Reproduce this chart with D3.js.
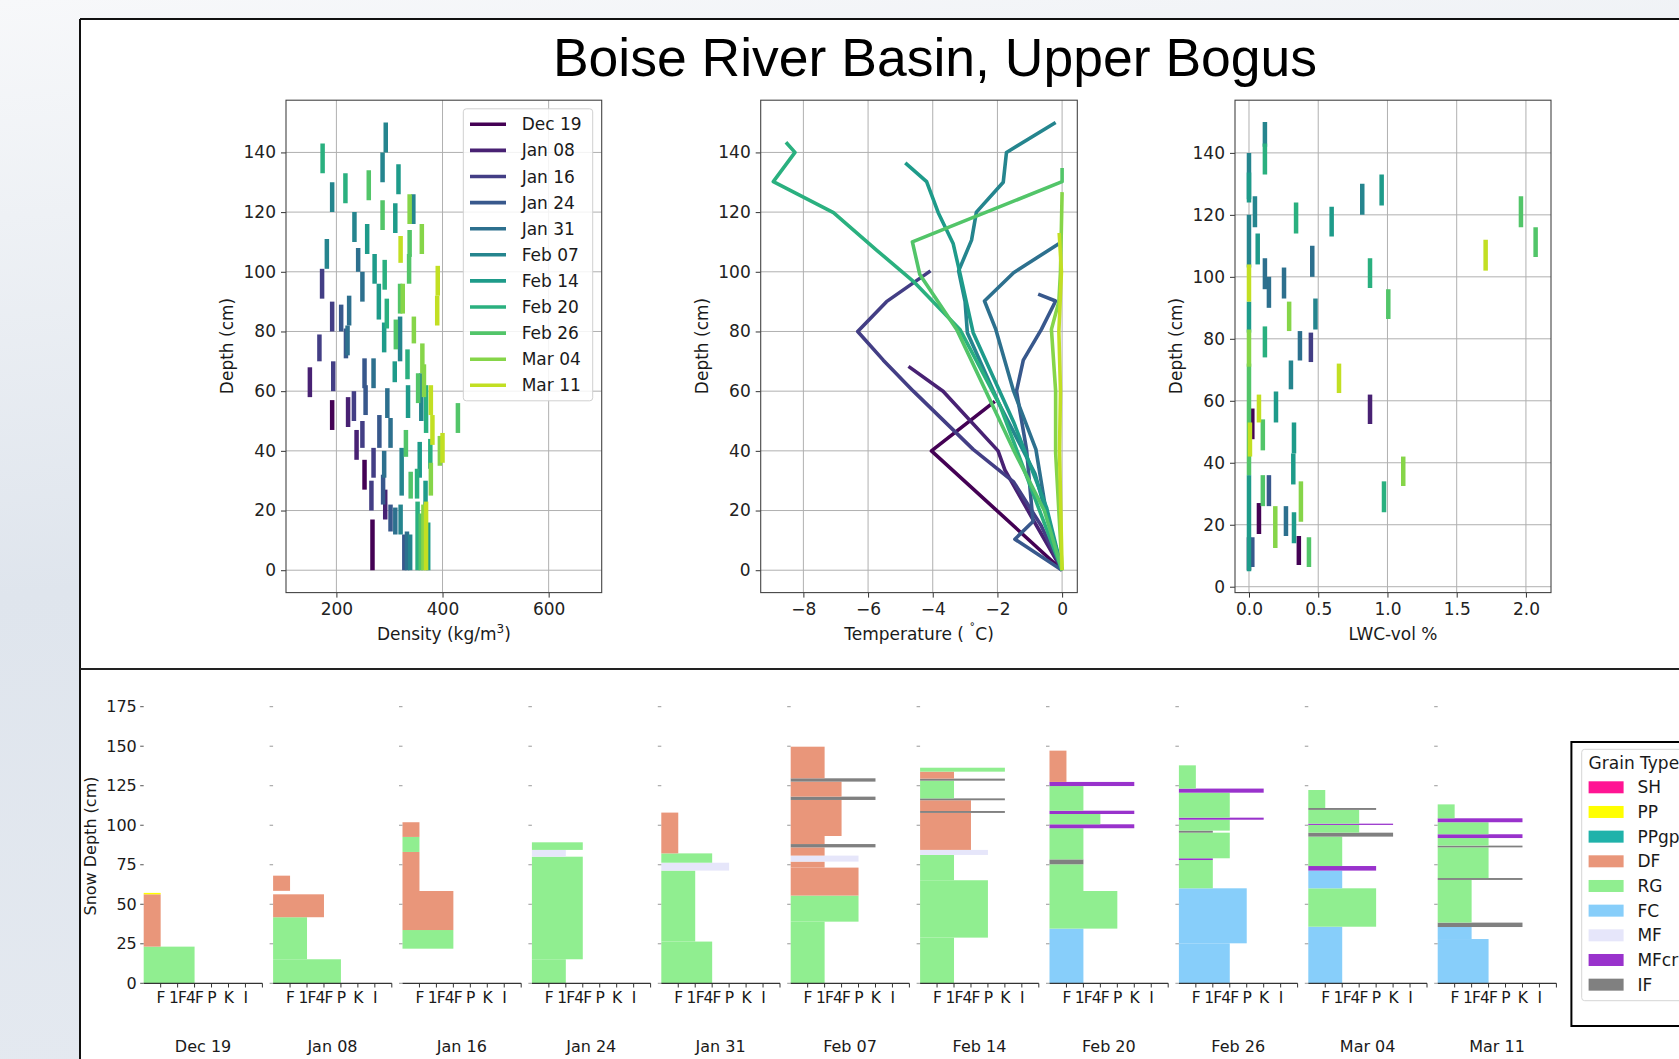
<!DOCTYPE html>
<html><head><meta charset="utf-8">
<script src="https://cdn.jsdelivr.net/npm/d3@7"></script>
<style>
body{margin:0;background:#fff;overflow:hidden}
svg{display:block}
text{font-family:"DejaVu Sans",sans-serif;fill:#1a1a1a}
</style></head><body>
<svg id="c" width="1679" height="1059"></svg>
<script>
// ---------------- DATA ----------------
const dates = ["Dec 19","Jan 08","Jan 16","Jan 24","Jan 31","Feb 07","Feb 14","Feb 20","Feb 26","Mar 04","Mar 11"];
const hardnessLabels = ["F","1F","4F","P","K","I"];
const grainTypes  = ["SH","PP","PPgp","DF","RG","FC","MF","MFcr","IF"];
const grainColors = ["#ff1493","#ffff00","#20b2aa","#e9967a","#90ee90","#87cefa","#e6e6fa","#9932cc","#808080"];
const densityTicks = [200,400,600];
const tempTicks = [-8,-6,-4,-2,0];
const lwcTicks = [0,0.5,1,1.5,2];
const depthTicks = [0,20,40,60,80,100,120,140];
const snowTicks = [0,25,50,75,100,125,150,175];

// density samples: [date, bottom cm, top cm, density kg/m3]
const densityRows = [
["Dec 19",0,17,268],["Dec 19",27,37,253],["Dec 19",47,57,192],
["Jan 08",17,27,292],["Jan 08",37,47,238],["Jan 08",48,58,222],["Jan 08",58,68,150],
["Jan 16",20,30,266],["Jan 16",31,41,270],["Jan 16",41,50,249],["Jan 16",50,60,233],["Jan 16",60,70,194],["Jan 16",70,79,168],["Jan 16",80,90,192],["Jan 16",91,101,173],
["Jan 24",0,12,328],["Jan 24",13,22,302],["Jan 24",22,32,288],["Jan 24",41,52,281],["Jan 24",52,62,255],["Jan 24",61,71,253],["Jan 24",71,81,218],["Jan 24",80,89,209],
["Jan 31",0,13,333],["Jan 31",12,21,311],["Jan 31",31,40,290],["Jan 31",41,51,302],["Jan 31",51,61,296],["Jan 31",61,71,270],["Jan 31",72,82,221],["Jan 31",82,92,224],["Jan 31",90,100,249],["Jan 31",100,108,241],
["Feb 07",0,12,339],["Feb 07",12,22,321],["Feb 07",25,41,323],["Feb 07",50,66,360],["Feb 07",70,85,320],["Feb 07",101,111,182],["Feb 07",110,120,234],["Feb 07",116,126,345],["Feb 07",120,130,192],["Feb 07",130,140,287],["Feb 07",140,150,293],
["Feb 14",0,16,373],["Feb 14",20,30,368],["Feb 14",31,43,357],["Feb 14",51,62,335],["Feb 14",63,70,310],["Feb 14",73,83,290],["Feb 14",84,96,280],["Feb 14",96,106,272],["Feb 14",106,116,258],["Feb 14",113,123,311],["Feb 14",126,136,317],
["Feb 20",0,23,353],["Feb 20",24,34,352],["Feb 20",34,44,377],["Feb 20",46,62,369],["Feb 20",64,74,334],["Feb 20",81,91,295],["Feb 20",94,104,291],["Feb 20",123,133,217],["Feb 20",133,143,174],
["Feb 26",0,19,359],["Feb 26",24,33,340],["Feb 26",38,47,331],["Feb 26",46,56,429],["Feb 26",56,66,354],["Feb 26",74,84,312],["Feb 26",86,96,320],["Feb 26",96,106,337],["Feb 26",105,114,338],["Feb 26",114,124,287],["Feb 26",124,134,261],
["Mar 04",0,22,364],["Mar 04",25,36,378],["Mar 04",35,45,395],["Mar 04",58,69,365],["Mar 04",66,76,362],["Mar 04",76,85,346],["Mar 04",86,96,325],["Mar 04",106,116,361],["Mar 04",116,126,338],
["Mar 11",0,23,369],["Mar 11",36,46,400],["Mar 11",42,52,381],["Mar 11",52,62,378],["Mar 11",82,92,390],["Mar 11",92,102,391],["Mar 11",103,112,321]
];

// temperature profiles: [date, depth cm, temperature C]
const tempRows = [
["Dec 19",0,0],["Dec 19",40,-4.04],["Dec 19",56.6,-2.08],
["Jan 08",0,0],["Jan 08",17,-0.9],["Jan 08",33.6,-1.77],["Jan 08",40,-1.98],["Jan 08",60,-3.68],["Jan 08",68.3,-4.75],
["Jan 16",0,0],["Jan 16",15,-0.65],["Jan 16",29.6,-1.5],["Jan 16",40.5,-2.75],["Jan 16",60,-4.6],["Jan 16",70.4,-5.53],["Jan 16",80,-6.32],["Jan 16",90,-5.43],["Jan 16",100.3,-4.07],
["Jan 24",0,0],["Jan 24",10.4,-1.46],["Jan 24",16.3,-0.9],["Jan 24",40.5,-1.1],["Jan 24",60,-1.41],["Jan 24",70.4,-1.2],["Jan 24",80.7,-0.64],["Jan 24",90.2,-0.2],["Jan 24",92.5,-0.74],
["Jan 31",0,0],["Jan 31",20,-0.5],["Jan 31",40.5,-0.81],["Jan 31",60,-1.5],["Jan 31",80.7,-2.05],["Jan 31",90.2,-2.4],["Jan 31",99.7,-1.5],["Jan 31",109.5,-0.09],
["Feb 07",0,0],["Feb 07",32.4,-0.84],["Feb 07",55.4,-1.93],["Feb 07",79.6,-2.93],["Feb 07",90,-3.0],["Feb 07",100.3,-3.2],["Feb 07",110.6,-2.8],["Feb 07",120,-2.65],["Feb 07",130,-1.82],["Feb 07",140,-1.72],["Feb 07",150,-0.2],
["Feb 14",0,0],["Feb 14",21,-0.48],["Feb 14",49.7,-1.5],["Feb 14",79.6,-2.75],["Feb 14",99.1,-3.15],["Feb 14",109.5,-3.37],["Feb 14",119.8,-3.83],["Feb 14",130.2,-4.19],["Feb 14",136.5,-4.85],
["Feb 20",0,0],["Feb 20",19.8,-0.69],["Feb 20",55.4,-1.93],["Feb 20",80.7,-3.16],["Feb 20",96.8,-4.6],["Feb 20",107.2,-5.73],["Feb 20",119.8,-7.07],["Feb 20",130.2,-8.93],["Feb 20",140,-8.26],["Feb 20",143.4,-8.54],
["Feb 26",0,0],["Feb 26",20,-0.55],["Feb 26",40.5,-1.51],["Feb 26",80.7,-3.26],["Feb 26",99.1,-4.4],["Feb 26",110,-4.63],["Feb 26",130.2,0],["Feb 26",134.8,0],
["Mar 04",0,0],["Mar 04",39.3,-0.2],["Mar 04",60,-0.2],["Mar 04",80.7,-0.33],["Mar 04",90,-0.1],["Mar 04",100,-0.05],["Mar 04",126.7,0],
["Mar 11",0,0],["Mar 11",40,-0.08],["Mar 11",60,-0.05],["Mar 11",80,-0.1],["Mar 11",100,-0.02],["Mar 11",113,-0.09]
];

// LWC samples: [date, bottom cm, top cm, LWC vol %]
const lwcRows = [
["Dec 19",7,16.4,0.36],["Dec 19",17,27,0.072],["Dec 19",47.6,57.5,0.024],
["Jan 08",5.3,16,0.0],["Jan 08",52.5,62,0.874],
["Jan 16",72.5,82,0.447],
["Jan 24",6.4,16,0.024],["Jan 24",26,36,0.144],
["Jan 31",16.4,26,0.267],["Jan 31",73,82.5,0.368],["Jan 31",90,100,0.144],["Jan 31",93,103,0.253],["Jan 31",96,106,0.115],["Jan 31",100,110,0.457],
["Feb 07",63.7,73,0.303],["Feb 07",83,93,0.48],["Feb 07",103,120,0.0],["Feb 07",116,126,0.043],["Feb 07",120,130,0.818],["Feb 07",125,140,0.0],["Feb 07",142,150,0.115],
["Feb 14",5,36,0.0],["Feb 14",14,24,0.325],["Feb 14",33,43,0.32],["Feb 14",43,53,0.325],["Feb 14",53,63,0.195],["Feb 14",82,92,0.0],["Feb 14",104,114,0.063],["Feb 14",113,122.6,0.597],["Feb 14",123,133,0.958],["Feb 14",124,133.7,0.0],
["Feb 20",24,34,0.975],["Feb 20",74,84,0.115],["Feb 20",96.4,106,0.874],["Feb 20",114,124,0.34],["Feb 20",133,143,0.115],
["Feb 26",6.4,16,0.433],["Feb 26",26,36,0.1],["Feb 26",36,72,0.0],["Feb 26",44,54,0.1],["Feb 26",86.4,96,1.006],["Feb 26",106.4,116,2.07],["Feb 26",116,126,1.964],
["Mar 04",21,34,0.375],["Mar 04",32.5,42,1.114],["Mar 04",71,83,0.0],["Mar 04",82.5,92,0.29],["Mar 04",12.5,26,0.19],
["Mar 11",42,53,0.007],["Mar 11",53,62,0.072],["Mar 11",62.5,72,0.65],["Mar 11",92,104,0.0],["Mar 11",102,112,1.709]
];

// snowpit layers: [date, bottom cm, top cm, grain type, hand hardness]
const layerRows = [
["Dec 19",0,23.2,"RG","4F"],["Dec 19",23.2,56.3,"DF","F"],["Dec 19",56.3,57.2,"PP","F"],
["Jan 08",0,15.2,"RG","P"],["Jan 08",15.2,41.8,"RG","1F"],["Jan 08",41.8,56.3,"DF","4F"],["Jan 08",58.5,68.1,"DF","F"],
["Jan 16",21.9,33.7,"RG","4F"],["Jan 16",33.7,58.4,"DF","4F"],["Jan 16",58.4,83.1,"DF","F"],["Jan 16",83.1,92.6,"RG","F"],["Jan 16",92.6,101.9,"DF","F"],
["Jan 24",0,15.2,"RG","1F"],["Jan 24",15.2,80.1,"RG","4F"],["Jan 24",80.1,84.4,"MF","1F"],["Jan 24",84.4,89.2,"RG","4F"],
["Jan 31",0,26.4,"RG","4F"],["Jan 31",26.4,71.3,"RG","1F"],["Jan 31",71.3,76.3,"MF","P"],["Jan 31",76.3,82.2,"RG","4F"],["Jan 31",82.2,108,"DF","F"],
["Feb 07",0,39,"RG","1F"],["Feb 07",39,55.5,"RG","P"],["Feb 07",55.5,73.2,"DF","P"],["Feb 07",73.2,77,"DF","1F"],["Feb 07",77,80.8,"MF","P"],["Feb 07",80.8,86,"DF","1F"],["Feb 07",86,88.1,"IF","K"],["Feb 07",88.1,93.2,"DF","1F"],["Feb 07",93.2,116,"DF","4F"],["Feb 07",116,118.1,"IF","K"],["Feb 07",118.1,127.6,"DF","4F"],["Feb 07",127.6,129.7,"IF","K"],["Feb 07",129.7,149.7,"DF","1F"],
["Feb 14",0,28.9,"RG","1F"],["Feb 14",28.9,65.2,"RG","P"],["Feb 14",65.2,81.2,"RG","1F"],["Feb 14",81.2,84.4,"MF","P"],["Feb 14",84.4,107.8,"DF","4F"],["Feb 14",107.8,109,"IF","K"],["Feb 14",109,115.8,"DF","4F"],["Feb 14",115.8,117,"IF","K"],["Feb 14",117,128.2,"RG","1F"],["Feb 14",128.2,129.5,"IF","K"],["Feb 14",129.5,133.9,"DF","1F"],["Feb 14",133.9,136.4,"RG","K"],
["Feb 20",0,34.6,"FC","1F"],["Feb 20",34.6,58.4,"RG","P"],["Feb 20",58.4,75.3,"RG","1F"],["Feb 20",75.3,78.4,"IF","1F"],["Feb 20",78.4,98.1,"RG","1F"],["Feb 20",98.1,100.6,"MFcr","K"],["Feb 20",100.6,107.1,"RG","4F"],["Feb 20",107.1,109.2,"MFcr","K"],["Feb 20",109.2,124.8,"RG","1F"],["Feb 20",124.8,127.4,"MFcr","K"],["Feb 20",127.4,147.2,"DF","F"],
["Feb 26",0,25.3,"FC","4F"],["Feb 26",25.3,60.1,"FC","P"],["Feb 26",60.1,78,"RG","1F"],["Feb 26",78,79.1,"MFcr","1F"],["Feb 26",79.1,95.3,"RG","4F"],["Feb 26",95.3,96.6,"IF","1F"],["Feb 26",96.6,103.5,"RG","4F"],["Feb 26",103.5,104.8,"MFcr","K"],["Feb 26",104.8,120.6,"RG","4F"],["Feb 26",120.6,123.2,"MFcr","K"],["Feb 26",123.2,137.9,"RG","F"],
["Mar 04",0,35.8,"FC","1F"],["Mar 04",35.8,60.1,"RG","P"],["Mar 04",60.1,71.3,"FC","1F"],["Mar 04",71.3,74.2,"MFcr","P"],["Mar 04",74.2,92.8,"RG","1F"],["Mar 04",92.8,95.3,"IF","K"],["Mar 04",95.3,100.2,"RG","4F"],["Mar 04",100.2,101,"MFcr","K"],["Mar 04",101,109.7,"RG","4F"],["Mar 04",109.7,110.9,"IF","P"],["Mar 04",110.9,122.3,"RG","F"],
["Mar 11",0,28,"FC","4F"],["Mar 11",28,35.6,"FC","1F"],["Mar 11",35.6,38.4,"IF","K"],["Mar 11",38.4,65.4,"RG","1F"],["Mar 11",65.4,66.6,"IF","K"],["Mar 11",66.6,86,"RG","4F"],["Mar 11",86,87.1,"IF","K"],["Mar 11",87.1,91.9,"RG","4F"],["Mar 11",91.9,94.3,"MFcr","K"],["Mar 11",94.3,101.9,"RG","4F"],["Mar 11",101.9,104.4,"MFcr","K"],["Mar 11",104.4,113.2,"RG","F"]
];

// ---------------- DRAW ----------------
const svg = d3.select("#c");
const defs = svg.append("defs");
const bg = defs.append("linearGradient").attr("id","bg").attr("x1",0).attr("y1",0).attr("x2",0.15).attr("y2",1);
bg.append("stop").attr("offset","0%").attr("stop-color","#f7f8fa");
bg.append("stop").attr("offset","20%").attr("stop-color","#eef1f5");
bg.append("stop").attr("offset","55%").attr("stop-color","#dfe5ed");
bg.append("stop").attr("offset","100%").attr("stop-color","#e4e9f0");
svg.append("rect").attr("width",1679).attr("height",1059).attr("fill","url(#bg)");
svg.append("rect").attr("x",80).attr("y",19).attr("width",1610).attr("height",1050).attr("fill","#fff");
svg.append("line").attr("x1",80).attr("x2",1679).attr("y1",19).attr("y2",19).attr("stroke","#111").attr("stroke-width",2);
svg.append("line").attr("x1",80).attr("x2",80).attr("y1",19).attr("y2",1059).attr("stroke","#111").attr("stroke-width",2);
svg.append("line").attr("x1",80).attr("x2",1679).attr("y1",669).attr("y2",669).attr("stroke","#222").attr("stroke-width",2);

svg.append("text").attr("x",935).attr("y",76).attr("text-anchor","middle")
  .style("font-family","'Liberation Sans',Arial,sans-serif").style("font-size","53.5px").style("fill","#000")
  .text("Boise River Basin, Upper Bogus");

const color = d => d3.interpolateViridis(dates.indexOf(d)/11);
const TOP = 100.2, BOT = 592.6;

function topPanel(id, x0, x1, xDomain, yDomain, xTicks, xFmt, xLabel, yLabelX){
  const x = d3.scaleLinear().domain(xDomain).range([x0,x1]);
  const y = d3.scaleLinear().domain(yDomain).range([BOT,TOP]);
  const g = svg.append("g");
  defs.append("clipPath").attr("id","clip"+id).append("rect").attr("x",x0).attr("y",TOP).attr("width",x1-x0).attr("height",BOT-TOP);
  g.selectAll(".gx").data(xTicks).join("line").attr("x1",d=>x(d)).attr("x2",d=>x(d)).attr("y1",TOP).attr("y2",BOT).attr("stroke","#b0b0b0").attr("stroke-width",1);
  g.selectAll(".gy").data(depthTicks).join("line").attr("y1",d=>y(d)).attr("y2",d=>y(d)).attr("x1",x0).attr("x2",x1).attr("stroke","#b0b0b0").attr("stroke-width",1);
  const ax = g.append("g").attr("transform",`translate(0,${BOT})`).call(d3.axisBottom(x).tickValues(xTicks).tickFormat(xFmt).tickSize(5).tickPadding(5));
  const ay = g.append("g").attr("transform",`translate(${x0},0)`).call(d3.axisLeft(y).tickValues(depthTicks).tickSize(5).tickPadding(5));
  [ax,ay].forEach(a=>{a.select(".domain").remove(); a.selectAll("line").attr("stroke","#333"); a.selectAll("text").style("font-size","17px").style("fill","#222");});
  const plot = svg.append("g").attr("clip-path",`url(#clip${id})`);
  svg.append("rect").attr("x",x0).attr("y",TOP).attr("width",x1-x0).attr("height",BOT-TOP).attr("fill","none").attr("stroke","#444").attr("stroke-width",1.1);
  svg.append("text").attr("x",(x0+x1)/2).attr("y",640).attr("text-anchor","middle").style("font-size","17px").html(xLabel);
  svg.append("text").attr("transform",`translate(${yLabelX},346) rotate(-90)`).attr("text-anchor","middle").style("font-size","17px").text("Depth (cm)");
  return {x,y,plot};
}

// density
const P1 = topPanel(1, 286, 601.7, [105,700], [-7.5,157.5], densityTicks, d3.format("d"),
  'Density (kg/m<tspan dy="-7" style="font-size:12px">3</tspan><tspan dy="7">)</tspan>', 233);
P1.plot.selectAll("line.d").data(densityRows).join("line")
  .attr("x1",d=>P1.x(d[3])).attr("x2",d=>P1.x(d[3])).attr("y1",d=>P1.y(d[1])).attr("y2",d=>P1.y(d[2]))
  .attr("stroke",d=>color(d[0])).attr("stroke-width",4.5);

// legend in density panel
const lg = svg.append("g");
lg.append("rect").attr("x",463.3).attr("y",108.8).attr("width",129.4).attr("height",292).attr("rx",3)
  .attr("fill","#fff").attr("fill-opacity",0.85).attr("stroke","#d0d0d0");
dates.forEach((d,i)=>{
  const yy = 124.3 + i*26.1;
  lg.append("line").attr("x1",470).attr("x2",506).attr("y1",yy).attr("y2",yy).attr("stroke",color(d)).attr("stroke-width",3.6);
  lg.append("text").attr("x",521.7).attr("y",yy+6).style("font-size","17px").text(d);
});

// temperature
const P2 = topPanel(2, 760.7, 1077.3, [-9.32,0.47], [-7.5,157.5], tempTicks, d=>d3.format("d")(d).replace("-","\u2212"),
  'Temperature ( <tspan dy="-6" style="font-size:12px">\u02da</tspan><tspan dy="6">C)</tspan>', 708);
const line = d3.line().x(d=>P2.x(d[2])).y(d=>P2.y(d[1]));
d3.groups(tempRows, d=>d[0]).forEach(([dt, rows])=>{
  P2.plot.append("path").attr("d",line(rows)).attr("fill","none").attr("stroke",color(dt)).attr("stroke-width",3.6).attr("stroke-linejoin","round");
});

// LWC
const P3 = topPanel(3, 1235, 1551, [-0.101,2.181], [-1.9,157], lwcTicks, d3.format(".1f"), "LWC-vol %", 1182);
P3.plot.selectAll("line.l").data(lwcRows).join("line")
  .attr("x1",d=>P3.x(d[3])).attr("x2",d=>P3.x(d[3])).attr("y1",d=>P3.y(d[1])).attr("y2",d=>P3.y(d[2]))
  .attr("stroke",d=>color(d[0])).attr("stroke-width",4.5);

// ---------------- bottom snowpit panels ----------------
const ys = d3.scaleLinear().domain([0,175]).range([983.3,706.7]);
const hard = h => hardnessLabels.indexOf(h)+1;
const gcol = g => grainColors[grainTypes.indexOf(g)];
dates.forEach((dt,i)=>{
  const left = 143.7 + i*129.4, w = 118.7;
  const xs = d3.scaleLinear().domain([0,7]).range([left,left+w]);
  const g = svg.append("g");
  g.selectAll("rect").data(layerRows.filter(r=>r[0]===dt)).join("rect")
    .attr("x",xs(0)).attr("width",d=>xs(hard(d[4]))-xs(0))
    .attr("y",d=>ys(d[2])).attr("height",d=>ys(d[1])-ys(d[2]))
    .attr("fill",d=>gcol(d[3]));
  g.selectAll("line.yt").data(snowTicks).join("line").attr("x1",left-3.5).attr("x2",left).attr("y1",d=>ys(d)).attr("y2",d=>ys(d))
    .attr("stroke",i===0?"#555":"#999").attr("stroke-width",1);
  if(i===0){
    g.selectAll("text.yl").data(snowTicks).join("text").attr("x",136.8).attr("y",d=>ys(d)+5.5).attr("text-anchor","end")
      .style("font-size","16px").text(d=>d);
  }
  g.append("line").attr("x1",left).attr("x2",left+w).attr("y1",983.3).attr("y2",983.3).attr("stroke","#333").attr("stroke-width",1.2);
  g.selectAll("line.xt").data([1,2,3,4,5,6,7]).join("line").attr("x1",d=>xs(d)).attr("x2",d=>xs(d)).attr("y1",983.3).attr("y2",987.5)
    .attr("stroke","#333").attr("stroke-width",1);
  g.selectAll("text.xl").data(hardnessLabels).join("text").attr("x",(d,k)=>xs(k+1)).attr("y",1003).attr("text-anchor","middle")
    .style("font-size","15.5px").style("letter-spacing","-0.8px").text(d=>d);
  g.append("text").attr("x",left+w/2).attr("y",1052).attr("text-anchor","middle").style("font-size","16px").text(dt);
});
svg.append("text").attr("transform","translate(96,846) rotate(-90)").attr("text-anchor","middle").style("font-size","16px").text("Snow Depth (cm)");

// grain legend
const gl = svg.append("g");
gl.append("rect").attr("x",1571.4).attr("y",742).attr("width",130).attr("height",284).attr("fill","#fff").attr("stroke","#000").attr("stroke-width",2);
gl.append("rect").attr("x",1581.7).attr("y",749.3).attr("width",120).attr("height",251.4).attr("rx",3).attr("fill","#fff").attr("stroke","#d6d6d6");
gl.append("text").attr("x",1588.6).attr("y",768.7).style("font-size","17px").text("Grain Type");
grainTypes.forEach((t,i)=>{
  const yy = 787.3 + i*24.67;
  gl.append("rect").attr("x",1588.6).attr("y",yy-6).attr("width",35).attr("height",12).attr("fill",grainColors[i]);
  gl.append("text").attr("x",1637.4).attr("y",yy+6).style("font-size","17px").text(t);
});
</script></body></html>
